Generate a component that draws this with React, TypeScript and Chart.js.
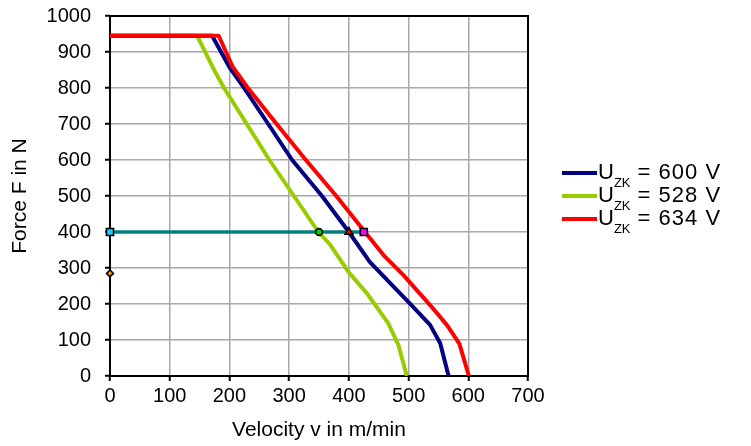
import React, { useEffect, useRef } from "react";
import { Chart, registerables } from "chart.js";

Chart.register(...registerables);

// ---- data ----
const velocity600 = [0, 171, 201, 223, 265, 305, 355, 400, 435, 472, 502, 536, 553, 567];
const force600 = [945, 945, 855, 804, 700, 600, 500, 400, 317, 253, 202, 142, 91, 0];

const velocity528 = [0, 146, 176, 191, 229, 267, 308, 349, 368, 399, 430, 466, 483, 497];
const force528 = [945, 945, 845, 800, 700, 600, 500, 400, 366, 290, 230, 146, 86, 0];

const velocity634 = [0, 182, 205, 231, 279, 328, 379, 427, 458, 491, 536, 564, 585, 601];
const force634 = [945, 945, 860, 800, 700, 600, 500, 400, 336, 281, 197, 142, 90, 0];

const operatingVelocity = [0, 425];
const operatingForce = [400, 400];

const markerVelocity = [0, 350, 400, 425, 0];
const markerForce = [400, 400, 400, 400, 285];

const legendVoltages = ["600 V", "528 V", "634 V"];
const legendColors = ["#000080", "#99cc00", "#ff0000"];

const xTitle = "Velocity v in m/min";
const yTitle = "Force F in N";

const FONT = '"Liberation Sans", Arial, Helvetica, sans-serif';

const toPoints = (xs: number[], ys: number[]) => xs.map((x, i) => ({ x, y: ys[i] }));

const frameAndLegend = {
  id: "frameAndLegend",
  beforeDatasetsDraw(chart: any) {
    const { ctx, chartArea } = chart;
    ctx.save();
    ctx.strokeStyle = "#000";
    ctx.lineWidth = 2;
    ctx.strokeRect(chartArea.left, chartArea.top, chartArea.right - chartArea.left, chartArea.bottom - chartArea.top);
    ctx.restore();
  },
  afterDraw(chart: any) {
    const { ctx, chartArea } = chart;
    ctx.save();
    const x0 = chartArea.right + 34;
    legendVoltages.forEach((label, i) => {
      const yLine = 173 + i * 23;
      ctx.strokeStyle = legendColors[i];
      ctx.lineWidth = 4;
      ctx.beginPath();
      ctx.moveTo(x0, yLine);
      ctx.lineTo(x0 + 35, yLine);
      ctx.stroke();
      const base = yLine + 5.6;
      ctx.fillStyle = "#000";
      ctx.textBaseline = "alphabetic";
      ctx.textAlign = "left";
      let x = x0 + 36;
      ctx.font = `22px ${FONT}`;
      ctx.fillText("U", x, base);
      x += ctx.measureText("U").width;
      ctx.font = `13px ${FONT}`;
      ctx.fillText("ZK", x, base + 8);
      x += ctx.measureText("ZK").width;
      ctx.font = `22px ${FONT}`;
      try {
        (ctx as any).letterSpacing = "1px";
      } catch (e) {}
      ctx.fillText(" = " + label, x, base);
      try {
        (ctx as any).letterSpacing = "0px";
      } catch (e) {}
    });
    ctx.restore();
  },
};

export default function App() {
  const canvasRef = useRef<HTMLCanvasElement | null>(null);

  useEffect(() => {
    document.body.style.margin = "0";
    const canvas = canvasRef.current;
    if (!canvas) return;
    const chart = new Chart(canvas, {
      type: "scatter",
      data: {
        datasets: [
          {
            label: "markers",
            data: toPoints(markerVelocity, markerForce),
            showLine: false,
            pointStyle: ["rect", "circle", "triangle", "rect", "rectRot"] as any,
            pointRadius: [5, 3.4, 4.5, 5, 3.4] as any,
            pointBackgroundColor: ["#22ccff", "#00d000", "#ff0000", "#ff00ff", "#ff9900"] as any,
            pointBorderColor: "#000",
            pointBorderWidth: 1.6,
            clip: false as any,
          },
          {
            label: "operating",
            data: toPoints(operatingVelocity, operatingForce),
            showLine: true,
            borderColor: "#008080",
            borderWidth: 3.5,
            pointRadius: 0,
          },
          {
            label: "634",
            data: toPoints(velocity634, force634),
            showLine: true,
            borderColor: legendColors[2],
            borderWidth: 4,
            pointRadius: 0,
            borderJoinStyle: "round",
          },
          {
            label: "600",
            data: toPoints(velocity600, force600),
            showLine: true,
            borderColor: legendColors[0],
            borderWidth: 4,
            pointRadius: 0,
            borderJoinStyle: "round",
          },
          {
            label: "528",
            data: toPoints(velocity528, force528),
            showLine: true,
            borderColor: legendColors[1],
            borderWidth: 4,
            pointRadius: 0,
            borderJoinStyle: "round",
          },
        ],
      },
      options: {
        responsive: false,
        animation: false,
        events: [],
        layout: { padding: { left: 0, right: 223, top: 16, bottom: 0 } },
        plugins: {
          legend: { display: false },
          tooltip: { enabled: false },
        },
        scales: {
          x: {
            type: "linear",
            min: 0,
            max: 700,
            ticks: {
              stepSize: 100,
              color: "#000",
              font: { family: FONT, size: 20 },
              padding: 3,
              maxRotation: 0,
              callback: (v: any) => String(v),
            },
            grid: { color: "#a8a8a8", lineWidth: 1.5, tickColor: "#000", tickLength: 5, tickWidth: 2 },
            border: { display: false },
            title: {
              display: true,
              text: xTitle,
              color: "#000",
              font: { family: FONT, size: 21 },
              padding: { top: 0, bottom: 3 },
            },
            afterFit: (s: any) => {
              s.height = 70;
              s.paddingLeft = 0;
              s.paddingRight = 0;
            },
          },
          y: {
            type: "linear",
            min: 0,
            max: 1000,
            ticks: {
              stepSize: 100,
              color: "#000",
              font: { family: FONT, size: 20 },
              padding: 14,
              callback: (v: any) => String(v),
            },
            grid: { color: "#a8a8a8", lineWidth: 1.5, tickColor: "#000", tickLength: 5, tickWidth: 2 },
            border: { display: false },
            title: {
              display: true,
              text: yTitle,
              color: "#000",
              font: { family: FONT, size: 21 },
              padding: { top: 8, bottom: 0 },
            },
            afterFit: (s: any) => {
              s.width = 110;
              s.paddingTop = 0;
              s.paddingBottom = 0;
            },
          },
        },
      },
      plugins: [frameAndLegend],
    });
    return () => chart.destroy();
  }, []);

  return (
    <div style={{ position: "absolute", left: 0, top: 0, width: 751, height: 446, background: "#fff" }}>
      <canvas ref={canvasRef} width={751} height={446} style={{ width: 751, height: 446 }} />
    </div>
  );
}
